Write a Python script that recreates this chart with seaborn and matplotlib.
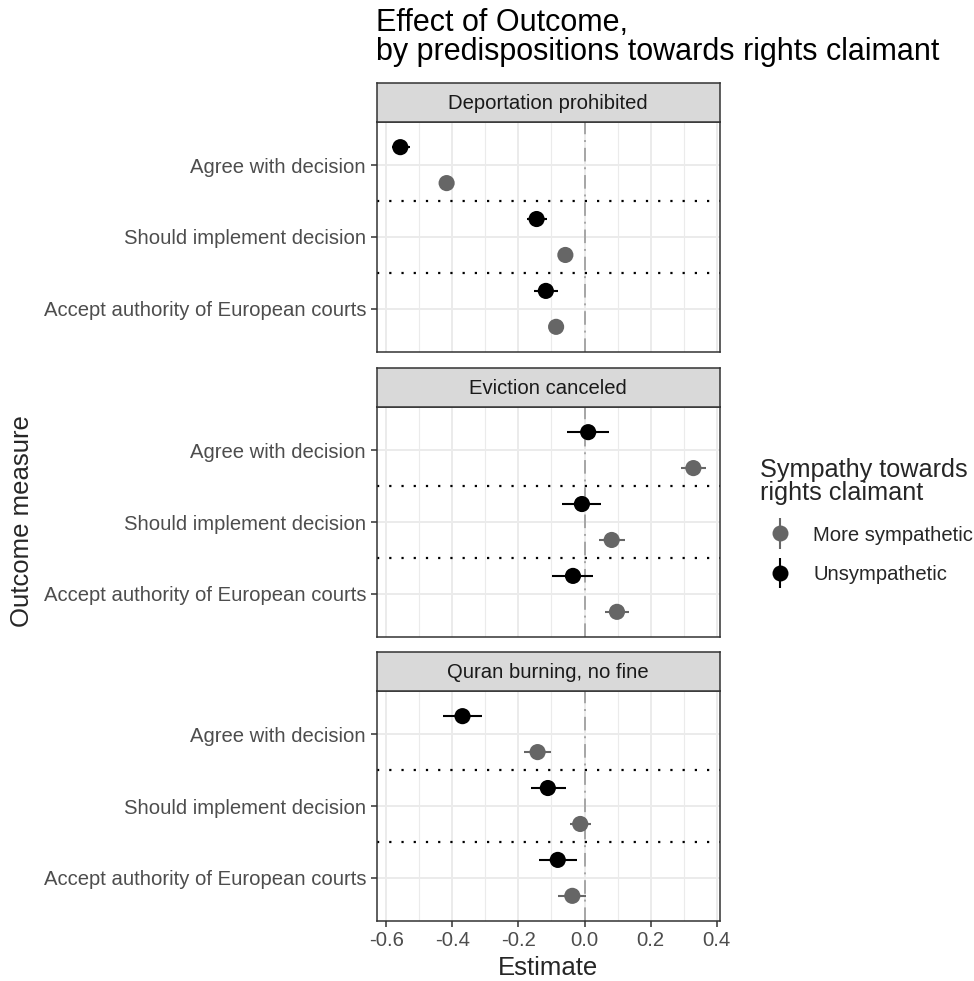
import numpy as np
import pandas as pd
import matplotlib
matplotlib.use("Agg")
import matplotlib.pyplot as plt
from matplotlib.container import ErrorbarContainer
from matplotlib.legend_handler import HandlerErrorbar
import seaborn as sns

# data
outcomes = ["Deportation prohibited", "Eviction canceled", "Quran burning, no fine"]
measures = ["Agree with decision", "Should implement decision",
            "Accept authority of European courts"]
groups = ["More sympathetic", "Unsympathetic"]

# order: outcome x measure
unsym_est = [-0.557, -0.145, -0.117, 0.011, -0.008, -0.035, -0.369, -0.111, -0.081]
unsym_lo = [-0.582, -0.173, -0.154, -0.052, -0.067, -0.098, -0.427, -0.163, -0.139]
unsym_hi = [-0.529, -0.115, -0.081, 0.075, 0.049, 0.026, -0.310, -0.057, -0.022]
sym_est = [-0.417, -0.058, -0.086, 0.329, 0.082, 0.098, -0.142, -0.013, -0.037]
sym_lo = [-0.437, -0.075, -0.104, 0.291, 0.043, 0.061, -0.182, -0.045, -0.080]
sym_hi = [-0.398, -0.042, -0.068, 0.368, 0.121, 0.135, -0.102, 0.019, 0.003]

rows = []
for g, est, lo, hi in [("Unsympathetic", unsym_est, unsym_lo, unsym_hi),
                       ("More sympathetic", sym_est, sym_lo, sym_hi)]:
    k = 0
    for o in outcomes:
        for m in measures:
            rows.append([o, m, g, est[k], lo[k], hi[k]])
            k += 1
df = pd.DataFrame(rows, columns=["outcome", "measure", "group", "est", "lo", "hi"])
dodge = {"Unsympathetic": -0.25, "More sympathetic": 0.25}
df["ypos"] = df["measure"].map({m: i for i, m in enumerate(measures)}) + df["group"].map(dodge)

colors = {"More sympathetic": "#666666", "Unsympathetic": "#000000"}

sns.set_theme(style="white")
plt.rcParams["font.family"] = ["Liberation Sans", "DejaVu Sans"]

W, H = 974, 981
fig = plt.figure(figsize=(W / 100, H / 100), dpi=100)

left, right = 376.5, 719.5
panel_tops = [122, 407, 691]
panel_h = 230
strip_h = 39
small = 14.6

for i, o in enumerate(outcomes):
    top = panel_tops[i]
    ax = fig.add_axes([left / W, 1 - (top + panel_h) / H, (right - left) / W, panel_h / H])
    sub = df[df["outcome"] == o]

    # grid
    for x in np.arange(-0.6, 0.41, 0.2):
        ax.axvline(x, color="#EBEBEB", lw=1.4, zorder=0)
    for x in np.arange(-0.5, 0.41, 0.2):
        ax.axvline(x, color="#EBEBEB", lw=0.8, zorder=0)
    for y in range(len(measures)):
        ax.axhline(y, color="#EBEBEB", lw=1.4, zorder=0)
    for y in [0.5, 1.5]:
        ax.axhline(y, color="black", lw=1.6, ls=(0, (1, 4.5)), zorder=1)
    ax.axvline(0, color="#A6A6A6", lw=1.4, ls=(0, (7, 3, 1, 3)), zorder=1)

    for g in groups:
        s = sub[sub["group"] == g]
        ax.hlines(s["ypos"], s["lo"], s["hi"], color=colors[g], lw=1.5, zorder=2)
    sns.scatterplot(data=sub, x="est", y="ypos", hue="group", palette=colors,
                    s=135, linewidth=0, ax=ax, legend=False, zorder=3)

    ax.set_xlim(-0.629, 0.408)
    ax.set_ylim(2.6, -0.6)
    ax.set_yticks(range(len(measures)))
    ax.set_yticklabels(measures)
    ax.set_xticks(np.arange(-0.6, 0.41, 0.2))
    ax.set_xticklabels(["-0.6", "-0.4", "-0.2", "0.0", "0.2", "0.4"])
    ax.set_xlabel("")
    ax.set_ylabel("")
    ax.tick_params(axis="both", colors="#333333", length=4.5, width=1.1,
                   labelsize=small, labelcolor="#4D4D4D", pad=3, left=True, bottom=True)
    if i < 2:
        ax.tick_params(axis="x", bottom=False, labelbottom=False)
    for sp in ax.spines.values():
        sp.set_color("#333333")
        sp.set_linewidth(1.1)
        sp.set_visible(True)

    sax = fig.add_axes([left / W, 1 - top / H, (right - left) / W, strip_h / H])
    sax.set_facecolor("#D9D9D9")
    sax.set_xticks([])
    sax.set_yticks([])
    for sp in sax.spines.values():
        sp.set_color("#333333")
        sp.set_linewidth(1.1)
        sp.set_visible(True)
    sax.text(0.5, 0.48, o, ha="center", va="center", fontsize=small, color="#1A1A1A",
             transform=sax.transAxes)
    last_ax = ax

fig.text(left / W, 1 - 31 / H, "Effect of Outcome,", ha="left", va="baseline",
         fontsize=22, color="black")
fig.text(left / W, 1 - 60 / H, "by predispositions towards rights claimant",
         ha="left", va="baseline", fontsize=22, color="black")
fig.text(548 / W, 1 - 968 / H, "Estimate", ha="center", va="center", fontsize=18.5)
fig.text(22 / W, 1 - 521 / H, "Outcome measure", ha="center", va="center",
         rotation=90, fontsize=18.5)

# legend: point with a vertical range line, like the reference key
handles = []
for g in groups:
    h = last_ax.errorbar([np.nan], [np.nan], yerr=[[0.1]], fmt="o", color=colors[g],
                         ms=11.5, elinewidth=1.5, capsize=0, mew=0)
    handles.append(h)
leg = fig.legend(handles=handles, labels=groups, loc="upper left",
                 bbox_to_anchor=(742 / W, 1 - 440 / H), frameon=False,
                 title="Sympathy towards\nrights claimant", title_fontsize=18.2,
                 fontsize=small, handlelength=1.97, handletextpad=0.64,
                 labelspacing=1.0, alignment="left",
                 handler_map={ErrorbarContainer: HandlerErrorbar(yerr_size=0.75)})
leg.get_title().set_linespacing(0.95)

fig.savefig("out.png", dpi=100)
